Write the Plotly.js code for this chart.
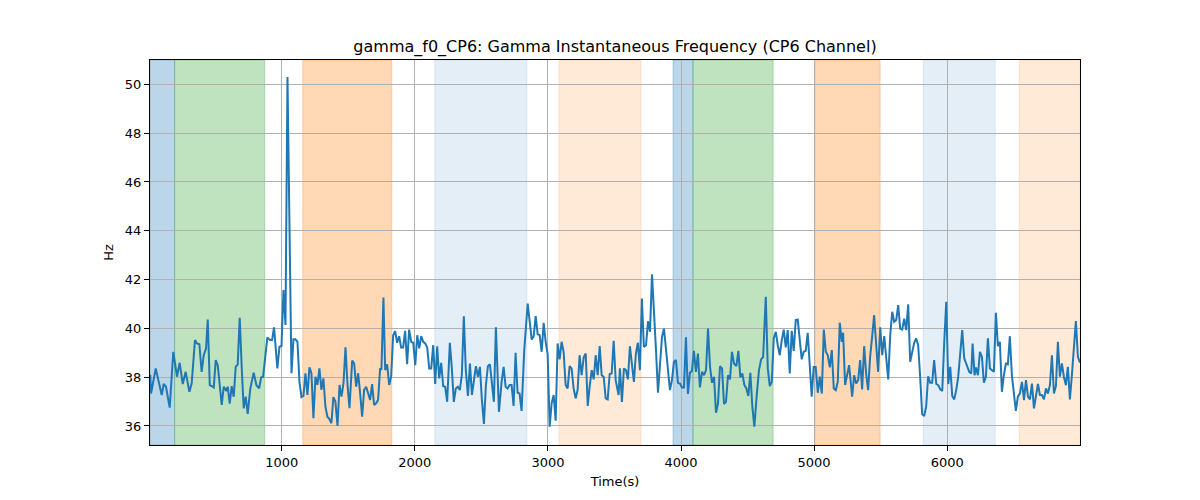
<!DOCTYPE html>
<html>
<head>
<meta charset="utf-8">
<script src="https://cdn.plot.ly/plotly-3.0.1.min.js"></script>
<style>
  html, body { margin: 0; padding: 0; background: #fff; }
  #chart { width: 1200px; height: 500px; }
</style>
</head>
<body>
<div id="chart"></div>
<script>
// Time axis (s) and gamma instantaneous frequency (Hz)
const timeSec = [
  12, 18, 53, 73, 98, 113, 130, 158, 185, 213, 233, 256, 278, 306, 323, 348, 363, 381, 398, 414,
  431, 444, 459, 474, 489, 504, 519, 549, 564, 584, 594, 609, 624, 639, 654, 669, 684, 699, 714, 729,
  744, 764, 789, 810, 830, 845, 860,
  892, 912, 927, 942, 967, 983, 998, 1013, 1028, 1043, 1073, 1088, 1103, 1118, 1133, 1148, 1163, 1178, 1193, 1208,
  1223, 1238, 1253, 1268, 1283, 1298, 1313, 1328, 1343, 1358, 1373, 1388, 1403, 1419, 1434, 1449, 1464, 1479, 1494, 1509,
  1529, 1544, 1559, 1574, 1589, 1604, 1619, 1634, 1649, 1664, 1679, 1694, 1709, 1724, 1739, 1749, 1764,
  1777, 1792, 1807, 1822, 1837, 1852, 1867, 1882, 1897, 1912, 1927, 1942, 1957, 1973, 1988, 2003, 2018, 2033, 2048, 2063,
  2078, 2093, 2108, 2123, 2138, 2153, 2168, 2183, 2198, 2213, 2228, 2243, 2263, 2278, 2293, 2308, 2323, 2338, 2353, 2368,
  2383, 2399, 2414, 2429, 2444, 2459, 2474, 2489, 2504, 2519, 2534, 2549, 2564, 2579, 2594, 2609,
  2632, 2652, 2667, 2682, 2697, 2712, 2727, 2742, 2757, 2772, 2787, 2802, 2822, 2848, 2863, 2878, 2893, 2908, 2923, 2938,
  2953, 2968, 2983, 2998, 3013, 3028, 3043, 3058, 3073, 3088, 3103, 3118, 3133, 3148, 3163, 3178, 3193, 3208, 3223, 3238,
  3253, 3269, 3284, 3299, 3314, 3329, 3344, 3359, 3374, 3389, 3404, 3419, 3434, 3449, 3464, 3479, 3494, 3509,
  3531, 3541, 3556, 3571, 3586, 3601, 3616, 3631, 3646, 3661, 3676, 3691, 3706, 3721, 3737, 3752, 3767, 3782, 3797, 3812,
  3827, 3842, 3857, 3872, 3887, 3902, 3917, 3932, 3947, 3962, 3977, 3992, 4007, 4022, 4037, 4052, 4067, 4082, 4097, 4112,
  4127, 4142, 4158, 4173, 4188, 4203, 4218, 4233, 4248, 4263, 4278, 4293, 4308, 4323, 4338, 4353, 4368, 4383, 4398,
  4416, 4431, 4446, 4461, 4476, 4491, 4506, 4521, 4536, 4551, 4571, 4586, 4602, 4617, 4637, 4652, 4667, 4682, 4697, 4712,
  4727, 4742, 4757, 4772, 4787, 4802, 4817, 4832, 4847, 4862, 4877, 4892, 4907, 4922, 4937, 4952, 4967, 4982, 4997, 5012,
  5028, 5043, 5058, 5073, 5088, 5103, 5118, 5133, 5148, 5163, 5178, 5193, 5208, 5218, 5233, 5248, 5263,
  5286, 5301, 5316, 5331, 5346, 5361, 5376, 5391, 5406, 5421, 5436, 5451, 5466, 5481, 5497, 5512, 5527, 5542, 5557, 5572,
  5587, 5602, 5617, 5632, 5647, 5662, 5677, 5692, 5707, 5722, 5737, 5752, 5767, 5782, 5797, 5812, 5827, 5842, 5857, 5872,
  5887, 5902, 5918, 5933, 5948, 5963, 5978, 5993, 6008, 6023, 6038, 6053, 6068, 6083, 6098, 6113, 6128, 6143,
  6166, 6181, 6191, 6206, 6216, 6231, 6246, 6261, 6276, 6291, 6306, 6321, 6336, 6351, 6366, 6381, 6396, 6411, 6426, 6441,
  6456, 6471, 6486, 6501, 6516, 6531, 6546, 6562, 6577, 6592, 6607, 6622, 6637, 6652, 6667, 6682, 6697, 6712, 6727, 6742,
  6757, 6772, 6787, 6802, 6817, 6832, 6847, 6862, 6877, 6892, 6907, 6922, 6937, 6952, 6967, 6982, 6998
];

const freqHz = [
  38.1, 37.33, 38.36, 37.88, 37.27, 37.72, 37.61, 36.75, 39.04, 38.02, 38.59, 37.72, 38.22, 37.40, 37.74, 39.52, 39.38, 39.35, 38.22, 38.90,
  39.18, 40.36, 37.67, 37.63, 37.58, 38.70, 38.49, 36.86, 37.61, 37.44, 37.61, 36.92, 37.63, 37.20, 38.42, 38.52, 40.43, 38.42, 36.72, 37.20,
  36.49, 37.54, 38.18, 37.67, 37.54, 37.99, 38.02,
  39.63, 39.52, 39.52, 40.04, 38.36, 39.25, 39.28, 41.57, 40.14, 50.30, 38.16, 39.55, 39.55, 39.45, 37.82, 37.18, 37.23, 38.16, 37.27, 38.40,
  38.16, 36.32, 38.02, 37.68, 38.36, 37.48, 37.95, 36.79, 36.38, 36.28, 36.11, 37.18, 37.00, 36.00, 37.68, 37.20, 37.75, 39.22, 37.68, 36.73,
  38.68, 38.57, 37.61, 38.16, 37.34, 36.38, 37.48, 37.61, 37.34, 37.07, 37.72, 36.86, 36.93, 37.07, 38.36, 38.30, 41.26,
  38.29, 38.53, 37.68, 38.02, 39.72, 39.89, 39.41, 39.68, 39.22, 39.22, 39.90, 38.53, 39.95, 39.45, 39.41, 38.49, 39.72, 39.18, 39.68, 39.45,
  39.38, 39.22, 38.36, 38.36, 39.31, 37.72, 39.27, 37.95, 38.59, 37.63, 37.61, 36.99, 39.41, 38.36, 36.99, 37.54, 37.61, 37.47, 38.08, 40.50,
  38.29, 37.23, 38.56, 37.27, 37.88, 38.45, 38.02, 38.42, 37.06, 36.08, 37.68, 38.45, 38.53, 37.77, 36.99, 40.04,
  36.58, 37.81, 38.42, 37.61, 37.54, 37.68, 37.68, 36.82, 39.00, 37.36, 37.33, 36.62, 39.11, 41.02, 40.36, 39.54, 39.68, 40.50, 39.76, 39.72,
  39.04, 40.23, 39.45, 38.94, 35.97, 36.93, 37.27, 36.22, 39.38, 38.73, 39.45, 39.04, 37.68, 37.54, 38.45, 38.36, 37.54, 37.13, 37.47, 38.90,
  38.08, 38.81, 38.97, 36.82, 37.63, 38.29, 37.91, 38.90, 38.08, 39.27, 38.08, 38.02, 37.13, 37.09, 38.13, 38.15, 39.49, 37.88,
  37.27, 38.36, 36.99, 38.36, 38.29, 37.91, 39.27, 38.56, 37.81, 38.97, 39.41, 38.29, 41.22, 39.24, 39.31, 40.29, 39.86, 42.22, 40.88, 39.11,
  37.36, 38.63, 39.65, 39.99, 39.18, 38.29, 37.47, 37.88, 38.63, 38.70, 37.77, 37.74, 37.58, 37.58, 39.63, 37.31, 38.18, 38.26, 39.08, 38.22,
  38.97, 37.58, 38.22, 38.08, 38.29, 39.99, 38.42, 37.77, 38.02, 36.54, 36.93, 38.45, 38.36, 36.90, 36.99, 38.08, 37.91, 39.04, 38.56,
  38.45, 39.08, 37.99, 38.15, 37.68, 37.54, 37.23, 38.18, 36.79, 35.97, 37.40, 38.29, 38.73, 38.83, 41.29, 38.36, 37.63, 37.81, 39.59, 39.86,
  39.31, 38.90, 39.52, 39.95, 39.22, 39.93, 38.15, 39.90, 39.08, 40.34, 40.36, 39.38, 38.73, 39.04, 39.08, 39.82, 38.42, 37.20, 38.42, 38.42,
  37.36, 38.02, 37.33, 39.95, 39.04, 38.90, 38.40, 39.11, 37.54, 37.47, 37.81, 40.23, 39.45, 39.82, 37.68, 38.15, 38.49,
  37.20, 38.08, 37.74, 37.88, 38.70, 37.50, 39.27, 38.15, 37.47, 38.83, 39.65, 40.54, 39.38, 38.22, 40.04, 38.90, 39.68, 38.70, 37.91, 39.72,
  40.68, 40.27, 40.34, 40.95, 39.99, 39.95, 40.40, 39.93, 40.99, 38.63, 39.04, 39.41, 39.59, 39.31, 38.02, 36.49, 36.41, 36.79, 38.04, 37.77,
  37.77, 38.70, 37.72, 37.67, 37.50, 37.44, 39.45, 41.09, 37.72, 38.42, 37.23, 37.09, 37.47, 38.02, 38.97, 39.93, 38.77, 38.56,
  38.22, 38.15, 39.38, 38.08, 38.40, 38.08, 39.04, 38.83, 37.77, 38.02, 39.59, 38.36, 38.29, 38.22, 40.64, 39.27, 39.45, 37.40, 38.08, 38.56,
  38.53, 39.68, 38.08, 37.20, 36.62, 37.20, 37.33, 37.81, 37.06, 37.88, 37.20, 37.09, 37.74, 36.72, 37.27, 37.72, 37.27, 37.27, 37.09, 37.54,
  37.33, 37.67, 38.90, 37.33, 37.63, 39.45, 38.02, 38.56, 38.02, 37.67, 38.42, 37.09, 38.08, 39.38, 40.30, 38.83, 38.59
];

// Shaded segments (s) and their kind
const bandStart = [10, 195, 1158, 2150, 3083, 3940, 4090, 5008, 5820, 6541];
const bandEnd   = [195, 872, 1827, 2842, 3699, 4090, 4692, 5496, 6361, 7000];
const bandKind  = ['blue', 'green', 'orange', 'paleBlue', 'paleOrange', 'blue', 'green', 'orange', 'paleBlue', 'paleOrange'];

const xTicks = [1000, 2000, 3000, 4000, 5000, 6000];
const yTicks = [36, 38, 40, 42, 44, 46, 48, 50];

const bandStyle = {
  blue:       { fill: 'rgba(31,119,180,0.3)',  edge: 'rgba(31,119,180,0.3)' },
  green:      { fill: 'rgba(44,160,44,0.3)',   edge: 'rgba(44,160,44,0.3)' },
  orange:     { fill: 'rgba(255,127,14,0.3)',  edge: 'rgba(255,127,14,0.3)' },
  paleBlue:   { fill: 'rgba(31,119,180,0.12)', edge: 'rgba(31,119,180,0.12)' },
  paleOrange: { fill: 'rgba(255,127,14,0.16)', edge: 'rgba(255,127,14,0.16)' },
};

const shapes = bandStart.map((x0, i) => ({
  type: 'rect',
  xref: 'x', yref: 'paper',
  x0: x0, x1: bandEnd[i], y0: 0, y1: 1,
  fillcolor: bandStyle[bandKind[i]].fill,
  line: { color: bandStyle[bandKind[i]].edge, width: 1 },
  layer: 'below',
}));

const trace = {
  x: timeSec,
  y: freqHz,
  type: 'scatter',
  mode: 'lines',
  line: { color: '#1f77b4', width: 2 },
  hoverinfo: 'x+y',
};

const axisCommon = {
  showline: true,
  linecolor: '#000',
  linewidth: 1,
  mirror: true,
  ticks: 'outside',
  ticklen: 5,
  tickwidth: 1,
  tickcolor: '#000',
  showgrid: true,
  gridcolor: '#b0b0b0',
  gridwidth: 0.8,
  zeroline: false,
  tickfont: { size: 13, color: '#000' },
};

const layout = {
  width: 1200,
  height: 500,
  margin: { l: 150, r: 120, t: 60, b: 55 },
  paper_bgcolor: '#fff',
  plot_bgcolor: '#fff',
  font: { family: 'DejaVu Sans, sans-serif', size: 13, color: '#000' },
  title: {
    text: 'gamma_f0_CP6: Gamma Instantaneous Frequency (CP6 Channel)',
    font: { size: 16, color: '#000' },
    x: 0.5125, xanchor: 'center',
    y: 0.908, yanchor: 'middle', yref: 'container',
  },
  xaxis: Object.assign({}, axisCommon, {
    range: [10, 6998],
    tickvals: xTicks,
    title: { text: 'Time(s)', font: { size: 13 }, standoff: 8 },
  }),
  yaxis: Object.assign({}, axisCommon, {
    range: [35.22, 51.0],
    tickvals: yTicks,
    title: { text: 'Hz', font: { size: 13 }, standoff: 8 },
  }),
  shapes: shapes,
  showlegend: false,
  hovermode: 'closest',
};

Plotly.newPlot('chart', [trace], layout, { displayModeBar: false, responsive: false });
</script>
</body>
</html>
